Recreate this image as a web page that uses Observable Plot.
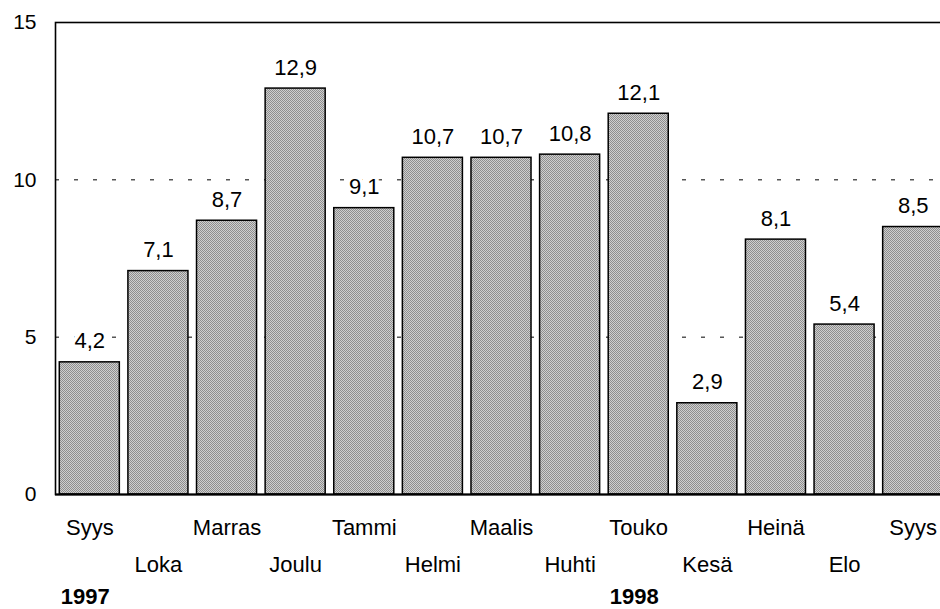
<!DOCTYPE html>
<html>
<head>
<meta charset="utf-8">
<script src="https://cdn.jsdelivr.net/npm/d3@7"></script>
<script src="https://cdn.jsdelivr.net/npm/@observablehq/plot@0.6"></script>
<style>
  html, body { margin: 0; padding: 0; background: white; overflow: hidden; }
</style>
</head>
<body>
<div id="chart"></div>
<script>
const months = ["Syys", "Loka", "Marras", "Joulu", "Tammi", "Helmi", "Maalis", "Huhti", "Touko", "Kesä", "Heinä", "Elo", "Syys"];
const values = [4.2, 7.1, 8.7, 12.9, 9.1, 10.7, 10.7, 10.8, 12.1, 2.9, 8.1, 5.4, 8.5];
const years = ["1997", "1998"];
const yearStartIndex = [0, 8];
const yTicks = [0, 5, 10, 15];
const gridValues = [5, 10];

const data = months.map((m, i) => ({i, month: m, value: values[i]}));
const yearData = years.map((y, k) => ({i: yearStartIndex[k], label: y}));
const fmt = v => v.toFixed(1).replace(".", ",");

const svg = Plot.plot({
  width: 940,
  height: 609,
  marginLeft: 55,
  marginTop: 22,
  marginBottom: 115,
  marginRight: -10,
  style: {fontFamily: "'Liberation Sans', Arial, Helvetica, sans-serif", fontSize: "21px", color: "black", background: "white", overflow: "hidden"},
  x: {type: "band", domain: d3.range(months.length), range: [55, 947], round: false, paddingInner: 0.125, paddingOuter: 0.0625, axis: null},
  y: {domain: [0, 15], ticks: yTicks, tickSize: 0, tickPadding: 19, label: null, tickFormat: d => String(d)},
  marks: [
    Plot.ruleY(gridValues, {stroke: "black", strokeWidth: 1, strokeDasharray: "4,15"}),
    Plot.barY(data, {x: "i", y: "value", fill: "url(#dots)", stroke: "black", strokeWidth: 1.5}),
    Plot.frame({stroke: "black", strokeWidth: 1.6}),
    Plot.ruleY([0], {stroke: "black", strokeWidth: 2}),
    Plot.text(data, {x: "i", y: "value", text: d => fmt(d.value), dy: -21, lineAnchor: "middle", fontSize: 22, fill: "black", stroke: "white", strokeWidth: 8}),
    Plot.text(data.filter(d => d.i % 2 === 0), {x: "i", text: "month", frameAnchor: "bottom", dy: 33, lineAnchor: "middle", fontSize: 22}),
    Plot.text(data.filter(d => d.i % 2 === 1), {x: "i", text: "month", frameAnchor: "bottom", dy: 70, lineAnchor: "middle", fontSize: 22}),
    Plot.text(yearData, {x: "i", text: "label", frameAnchor: "bottom", dy: 102, dx: -29, textAnchor: "start", lineAnchor: "middle", fontSize: 22, fontWeight: "bold"})
  ]
});

const defs = d3.select(svg).insert("defs", ":first-child");
const pat = defs.append("pattern")
  .attr("id", "dots")
  .attr("patternUnits", "userSpaceOnUse")
  .attr("width", 2)
  .attr("height", 2);
pat.append("rect").attr("width", 2).attr("height", 2).attr("fill", "#cfcfcf");
pat.append("rect").attr("x", 0).attr("y", 0).attr("width", 1).attr("height", 1).attr("fill", "#8e8e8e");
pat.append("rect").attr("x", 1).attr("y", 1).attr("width", 1).attr("height", 1).attr("fill", "#8e8e8e");

document.getElementById("chart").appendChild(svg);
</script>
</body>
</html>
